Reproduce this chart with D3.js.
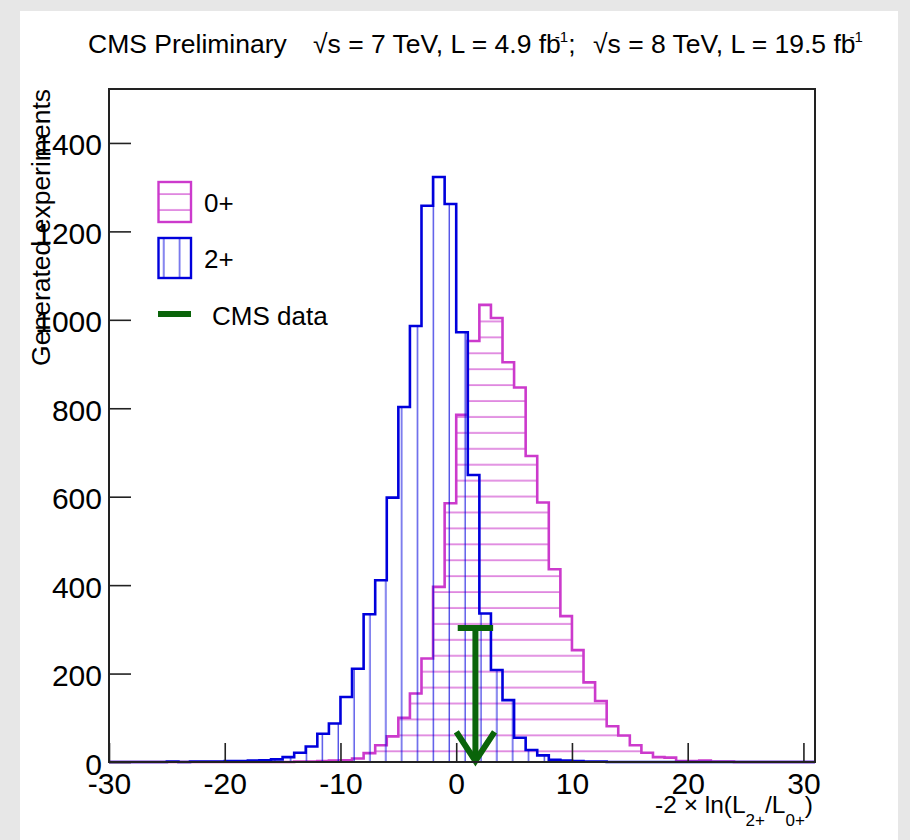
<!DOCTYPE html>
<html>
<head>
<meta charset="utf-8">
<script src="https://cdn.jsdelivr.net/npm/d3@7"></script>
<style>
body { margin: 0; background: #e7e7e7; }
svg { display: block; }
text { font-family: "Liberation Sans", Arial, Helvetica, sans-serif; fill: #000; }
</style>
</head>
<body>
<script>
// Histogram binning: unit-wide bins, first low edge at -30
var binStart = -30;
var binWidth = 1;

// Generated experiments per bin, 0+ hypothesis (bins -30 .. 30)
var counts0p = [
    0, 0, 0, 0, 0, 0, 0, 0, 0, 0,
    0, 0, 0, 0, 0, 0, 1, 1, 2, 3,
    4, 8, 20, 38, 58, 100, 155, 234, 396, 585,
    785, 952, 1034, 1004, 904, 847, 692, 587, 436, 330,
    253, 180, 138, 81, 60, 38, 21, 11, 10, 2,
    2, 3, 1, 1, 0, 0, 0, 0, 0, 0,
    0
];

// Generated experiments per bin, 2+ hypothesis
var counts2p = [
    0, 0, 0, 0, 0, 1, 0, 1, 1, 1,
    2, 2, 3, 4, 6, 11, 21, 35, 64, 87,
    147, 211, 334, 411, 598, 803, 986, 1258, 1323, 1262,
    972, 649, 336, 208, 140, 55, 27, 15, 5, 3,
    2, 1, 1, 0, 0, 0, 0, 0, 0, 0,
    0, 0, 0, 0, 0, 0, 0, 0, 0, 0,
    0
];

// Observed value and arrow height
var cmsData = 1.66;
var cmsArrowTop = 303;

var xMajorTicks = [-30, -20, -10, 0, 10, 20, 30];
var xMinorTicks = [-28, -26, -24, -22, -18, -16, -14, -12, -8, -6, -4, -2, 2, 4, 6, 8, 12, 14, 16, 18, 22, 24, 26, 28];
var yMajorTicks = [0, 200, 400, 600, 800, 1000, 1200, 1400];
var yMinorTicks = [50, 100, 150, 250, 300, 350, 450, 500, 550, 650, 700, 750, 850, 900, 950, 1050, 1100, 1150, 1250, 1300, 1350, 1450, 1500];

var legendLabels = ["0+", "2+", "CMS data"];

var W = 910, H = 840;
var frame = { left: 109, right: 815, top: 89, bottom: 762 };
var BLUE = "#0000dc", MAGENTA = "#cc3acc", GREEN = "#0a640a";

var svg = d3.select("body").append("svg").attr("width", W).attr("height", H);

// paper
svg.append("rect").attr("x", 20).attr("y", 11).attr("width", 878).attr("height", 829).attr("fill", "#fff");

var defs = svg.append("defs");
var pH = defs.append("pattern").attr("id", "hatchH").attr("patternUnits", "userSpaceOnUse")
    .attr("width", 20).attr("height", 15.92);
pH.append("line").attr("x1", 0).attr("x2", 20).attr("y1", 3.05).attr("y2", 3.05)
    .attr("stroke", MAGENTA).attr("stroke-width", 1.3).attr("stroke-opacity", 0.85);
var pV = defs.append("pattern").attr("id", "hatchV").attr("patternUnits", "userSpaceOnUse")
    .attr("width", 15.86).attr("height", 20);
pV.append("line").attr("x1", 5.2).attr("x2", 5.2).attr("y1", 0).attr("y2", 20)
    .attr("stroke", BLUE).attr("stroke-width", 1.3).attr("stroke-opacity", 0.75);

var x = d3.scaleLinear().domain([binStart, binStart + binWidth * counts0p.length]).range([frame.left, frame.right]);
var y = d3.scaleLinear().domain([0, 1522]).range([frame.bottom, frame.top]);

function stepPoints(counts) {
    var pts = [[x(binStart), y(0)]];
    counts.forEach(function(c, i) {
        var lo = binStart + i * binWidth;
        pts.push([x(lo), y(c)], [x(lo + binWidth), y(c)]);
    });
    pts.push([x(binStart + counts.length * binWidth), y(0)]);
    return pts;
}

var line = d3.line();

function drawHist(counts, color, pattern) {
    var pts = stepPoints(counts);
    svg.append("path").attr("d", line(pts) + "Z").attr("fill", "url(#" + pattern + ")").attr("stroke", "none");
    svg.append("path").attr("d", line(pts)).attr("fill", "none")
        .attr("stroke", color).attr("stroke-width", 2.6).attr("stroke-linejoin", "miter");
}

drawHist(counts0p, MAGENTA, "hatchH");
drawHist(counts2p, BLUE, "hatchV");

// CMS data arrow
var ax = x(cmsData);
var arrow = svg.append("g").attr("stroke", GREEN).attr("stroke-width", 6).attr("fill", "none");
arrow.append("line").attr("x1", ax).attr("x2", ax).attr("y1", y(cmsArrowTop)).attr("y2", y(0) - 2);
arrow.append("line").attr("x1", x(cmsData - 1.53)).attr("x2", x(cmsData + 1.53))
    .attr("y1", y(cmsArrowTop)).attr("y2", y(cmsArrowTop));
arrow.append("polyline")
    .attr("points", [[x(cmsData - 1.65), y(68)], [ax, y(0) - 1], [x(cmsData + 1.65), y(68)]].join(" "));

// axes
var plain = function(d) { return String(d); };

var gx = svg.append("g").attr("transform", "translate(0," + frame.bottom + ")");
gx.call(d3.axisBottom(x).tickValues(xMinorTicks).tickSizeInner(-10).tickSizeOuter(0).tickFormat(""));
gx.call(d3.axisBottom(x).tickValues(xMajorTicks).tickSizeInner(-19).tickSizeOuter(0).tickFormat(plain));
gx.select(".domain").remove();
gx.selectAll("line").attr("stroke", "#222").attr("stroke-width", 1.6);
gx.selectAll("text").attr("y", 32).attr("dy", 0).attr("font-size", 30).style("font-family", "Liberation Sans, Arial, sans-serif");

var gy = svg.append("g").attr("transform", "translate(" + frame.left + ",0)");
gy.call(d3.axisLeft(y).tickValues(yMinorTicks).tickSizeInner(-11).tickSizeOuter(0).tickFormat(""));
gy.call(d3.axisLeft(y).tickValues(yMajorTicks).tickSizeInner(-22).tickSizeOuter(0).tickFormat(plain));
gy.select(".domain").remove();
gy.selectAll("line").attr("stroke", "#222").attr("stroke-width", 1.6);
gy.selectAll("text").attr("x", -7).attr("dy", "0.4em").attr("font-size", 30).style("font-family", "Liberation Sans, Arial, sans-serif");

svg.append("rect").attr("x", frame.left).attr("y", frame.top)
    .attr("width", frame.right - frame.left).attr("height", frame.bottom - frame.top)
    .attr("fill", "none").attr("stroke", "#222").attr("stroke-width", 2);

// axis titles
svg.append("text").attr("transform", "translate(50," + frame.top + ") rotate(-90)")
    .attr("text-anchor", "end").attr("font-size", 26.5).text("Generated experiments");

var xt = svg.append("text").attr("x", 813).attr("y", 813).attr("text-anchor", "end").attr("font-size", 24.5);
xt.append("tspan").text("-2 \u00d7 ln(L");
xt.append("tspan").attr("font-size", 17).attr("dy", 13).text("2+");
xt.append("tspan").attr("dy", -13).text("/L");
xt.append("tspan").attr("font-size", 17).attr("dy", 13).text("0+");
xt.append("tspan").attr("dy", -13).text(")");

// header
svg.append("text").attr("x", 88).attr("y", 53).attr("font-size", 26.5).text("CMS Preliminary");

function lumiText(x0, energy, lumi, semi) {
    var t = svg.append("text").attr("x", x0).attr("y", 53).attr("font-size", 26.5);
    t.append("tspan").text("\u221as = " + energy + " TeV, L = " + lumi + " fb");
    t.append("tspan").attr("font-size", 15).attr("dx", -6).attr("dy", -11).text("-1");
    t.append("tspan").attr("dy", 11).text(semi);
}
lumiText(313, 7, "4.9", ";");
lumiText(593, 8, "19.5", "");

// legend
var legend = svg.append("g");
legend.append("rect").attr("x", 158.5).attr("y", 182).attr("width", 32.5).attr("height", 40)
    .attr("fill", "url(#hatchH)").attr("stroke", MAGENTA).attr("stroke-width", 2.4);
legend.append("rect").attr("x", 158.5).attr("y", 238).attr("width", 32.5).attr("height", 40)
    .attr("fill", "url(#hatchV)").attr("stroke", BLUE).attr("stroke-width", 2.4);
legend.append("line").attr("x1", 158).attr("x2", 191).attr("y1", 314).attr("y2", 314)
    .attr("stroke", GREEN).attr("stroke-width", 6);
legend.selectAll("text.lab").data(legendLabels).enter().append("text")
    .attr("class", "lab")
    .attr("x", function(d, i) { return i == 2 ? 212 : 204; })
    .attr("y", function(d, i) { return [212, 268, 325][i]; })
    .attr("font-size", 26)
    .text(function(d) { return d; });
</script>
</body>
</html>
